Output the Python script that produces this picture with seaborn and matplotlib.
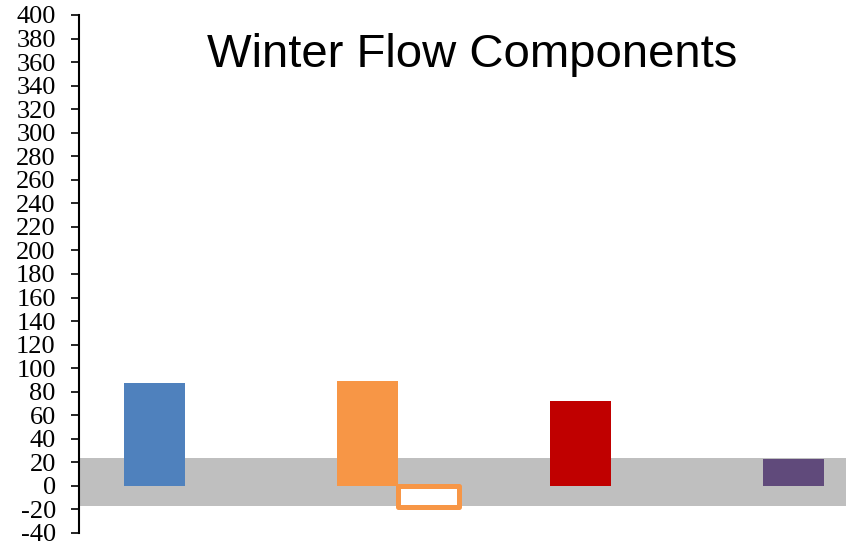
import matplotlib
matplotlib.use("Agg")
import matplotlib.pyplot as plt
import seaborn as sns
import pandas as pd

# Flow components (winter)
components = ["A", "B", "C", "D"]
values = [87, 89.5, 72.5, 22.5]
colors = ["#4F81BD", "#F79646", "#C00000", "#604A7B"]

# Secondary (outflow) series, drawn beside component B
outflow_index = 1
outflow_value = -18

# Shaded range
band_low, band_high = -17, 23.5

yticks = list(range(-40, 401, 20))

sns.set_style("white")
plt.rcParams["font.family"] = ["Liberation Serif", "DejaVu Serif"]

fig = plt.figure(figsize=(8.46, 5.47), dpi=100)
ax = fig.add_axes([0.093, 0.0256, 0.907, 0.947])

ax.axhspan(band_low, band_high, color="#BFBFBF", zorder=0, lw=0)

df = pd.DataFrame({"component": components, "value": values})
bar_w = 0.286
sns.barplot(data=df, x="component", y="value", hue="component",
            palette=colors, width=bar_w, legend=False, saturation=1,
            ax=ax, zorder=2, linewidth=0)

ax.bar(outflow_index + bar_w, outflow_value, width=bar_w, color="white",
       edgecolor="#F79646", linewidth=3.6, joinstyle="round", zorder=3)

ax.set_xlim(-0.356, 3.246)
ax.set_ylim(-40, 400)
ax.set_yticks(yticks)
ax.set_yticklabels([str(t) for t in yticks], fontsize=19, color="black")
ax.set_xticks([])
ax.set_xlabel("")
ax.set_ylabel("")

for s in ["top", "right", "bottom"]:
    ax.spines[s].set_visible(False)
ax.spines["left"].set_linewidth(1.5)
ax.spines["left"].set_color("black")
ax.tick_params(axis="y", direction="out", length=5.5, width=1.2,
               colors="black", pad=11, left=True)

fig.text(0.558, 0.899, "Winter Flow Components", ha="center", va="center",
         fontsize=34, color="black", family=["Liberation Sans", "DejaVu Sans"])

fig.savefig("out.png", dpi=100)
